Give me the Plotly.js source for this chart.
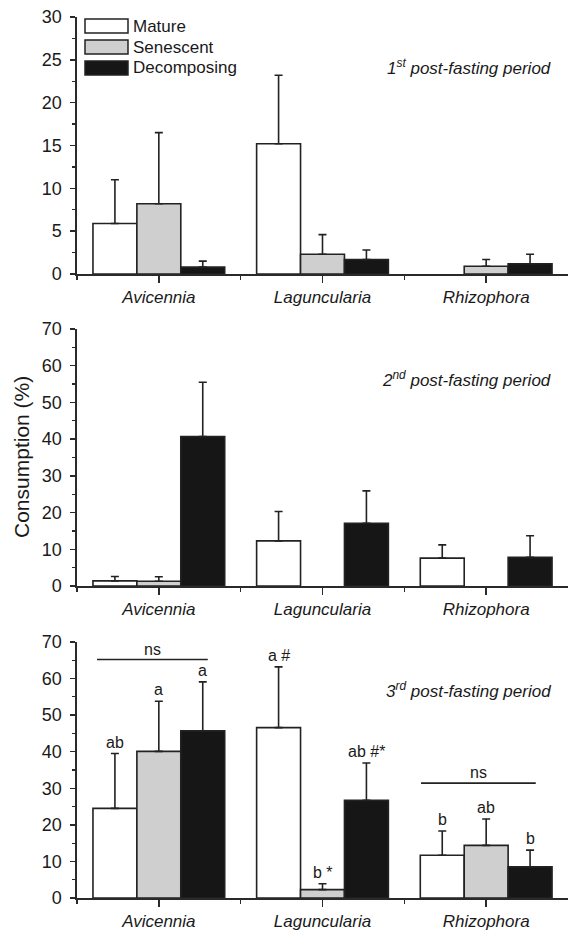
<!DOCTYPE html>
<html>
<head>
<meta charset="utf-8">
<script src="https://cdn.plot.ly/plotly-3.0.1.min.js"></script>
<style>html,body{margin:0;padding:0;background:#fff;}#chart{width:568px;height:930px;}</style>
</head>
<body>
<div id="chart"></div>
<script>
// ---- data ----
var species = ["Avicennia", "Laguncularia", "Rhizophora"];
var seriesNames = ["Mature", "Senescent", "Decomposing"];
var periodTitles = ["1<sup>st</sup> post-fasting period", "2<sup>nd</sup> post-fasting period", "3<sup>rd</sup> post-fasting period"];

// period 1
var p1Mature = [5.9, 15.2, null];
var p1MatureErr = [5.1, 8.0, null];
var p1Senescent = [8.2, 2.3, 0.9];
var p1SenescentErr = [8.3, 2.3, 0.8];
var p1Decomposing = [0.8, 1.7, 1.2];
var p1DecomposingErr = [0.7, 1.1, 1.1];

// period 2
var p2Mature = [1.4, 12.3, 7.6];
var p2MatureErr = [1.2, 8.0, 3.6];
var p2Senescent = [1.3, null, null];
var p2SenescentErr = [1.2, null, null];
var p2Decomposing = [40.7, 17.1, 7.8];
var p2DecomposingErr = [14.8, 8.8, 5.9];

// period 3
var p3Mature = [24.5, 46.6, 11.7];
var p3MatureErr = [15.0, 16.6, 6.6];
var p3Senescent = [40.1, 2.3, 14.4];
var p3SenescentErr = [13.7, 1.6, 7.2];
var p3Decomposing = [45.7, 26.7, 8.5];
var p3DecomposingErr = [13.4, 10.2, 4.6];

// significance letters, period 3 (per species: Mature, Senescent, Decomposing)
var p3Letters = [["ab", "a", "a"], ["a #", "b *", "ab #*"], ["b", "ab", "b"]];

var yTickVals1 = [0, 5, 10, 15, 20, 25, 30];
var yTickVals23 = [0, 10, 20, 30, 40, 50, 60, 70];

// ---- styling ----
var FONT = "Liberation Sans, Arial, Helvetica, sans-serif";
var fills = ["#ffffff", "#cfcfcf", "#161616"];
var edge = "#222222";
var axisCol = "#2a2a2a";
var txtCol = "#1a1a1a";
var BARGAP = 0.195;

var W = 568, H = 930, ML = 77, MR = 0, MT = 17, MB = 32;
var PW = W - ML - MR, PH = H - MT - MB;
function px(x) { return (x - ML) / PW; }
function py(y) { return (H - MB - y) / PH; }

var panels = [
  {vals: [p1Mature, p1Senescent, p1Decomposing], errs: [p1MatureErr, p1SenescentErr, p1DecomposingErr]},
  {vals: [p2Mature, p2Senescent, p2Decomposing], errs: [p2MatureErr, p2SenescentErr, p2DecomposingErr]},
  {vals: [p3Mature, p3Senescent, p3Decomposing], errs: [p3MatureErr, p3SenescentErr, p3DecomposingErr]}
];

var xIdx = species.map(function (_, i) { return i; });
var traces = [];
panels.forEach(function (p, k) {
  var sfx = k === 0 ? "" : String(k + 1);
  for (var j = 0; j < 3; j++) {
    traces.push({
      type: "bar",
      name: seriesNames[j],
      x: xIdx,
      y: p.vals[j],
      xaxis: "x" + sfx,
      yaxis: "y" + sfx,
      showlegend: false,
      marker: {color: fills[j], line: {color: edge, width: 1.6}},
      error_y: {
        type: "data", symmetric: false,
        array: p.errs[j],
        arrayminus: p.errs[j].map(function (v) { return v === null ? null : 0; }),
        color: edge, thickness: 1.6, width: 4
      },
      hoverinfo: "skip"
    });
  }
});

var domains = [[py(274), py(17)], [py(586), py(329)], [py(898), py(642)]];
var ranges = [[0, 30], [0, 70], [0, 70]];

var layout = {
  width: W, height: H,
  margin: {l: ML, r: MR, t: MT, b: MB},
  paper_bgcolor: "#fff", plot_bgcolor: "#fff",
  barmode: "group", bargap: BARGAP, bargroupgap: 0,
  showlegend: false,
  font: {family: FONT, size: 16, color: txtCol},
  annotations: [], shapes: []
};

for (var k = 0; k < 3; k++) {
  var sfx = k === 0 ? "" : String(k + 1);
  layout["xaxis" + sfx] = {
    anchor: "y" + sfx, domain: [0, 1], range: [-0.5, 2.5],
    tickmode: "array", tickvals: xIdx, ticktext: species,
    ticks: "outside", ticklen: 7, tickwidth: 1.5, tickcolor: axisCol,
    minor: {tickmode: "array", tickvals: [-0.5, 0.5, 1.5], ticks: "outside", ticklen: 4, tickwidth: 1.5, tickcolor: axisCol},
    showline: true, linecolor: axisCol, linewidth: 1.6,
    showgrid: false, zeroline: false, fixedrange: true,
    tickfont: {family: FONT, size: 17, style: "italic", color: txtCol}
  };
  layout["yaxis" + sfx] = {
    anchor: "x" + sfx, domain: domains[k], range: ranges[k],
    tickmode: "array", tickvals: k === 0 ? yTickVals1 : yTickVals23,
    ticks: "outside", ticklen: 5, tickwidth: 1.5, tickcolor: axisCol,
    minor: {dtick: k === 0 ? 2.5 : 5, tick0: 0, ticks: "outside", ticklen: 3, tickwidth: 1.2, tickcolor: axisCol},
    showline: true, linecolor: axisCol, linewidth: 1.6,
    showgrid: false, zeroline: false, fixedrange: true,
    ticklabelstandoff: 5,
    tickfont: {family: FONT, size: 18, color: txtCol}
  };
  layout.annotations.push({
    xref: "paper", yref: "paper", x: px(553), y: py([67, 379, 690][k]),
    xanchor: "right", yanchor: "middle", showarrow: false,
    text: "<i>" + periodTitles[k] + "</i>",
    font: {family: FONT, size: 17, color: txtCol}
  });
}

// y title
layout.annotations.push({
  xref: "paper", yref: "paper", x: px(21), y: py(457), xanchor: "center", yanchor: "middle",
  textangle: -90, showarrow: false, text: "Consumption (%)",
  font: {family: FONT, size: 21, color: txtCol}
});

// manual legend
var legTops = [19, 40, 61];
for (var j = 0; j < 3; j++) {
  layout.shapes.push({
    type: "rect", xref: "paper", yref: "paper",
    x0: px(85), x1: px(128), y0: py(legTops[j] + 14), y1: py(legTops[j]),
    fillcolor: fills[j], line: {color: edge, width: 1.5}
  });
  layout.annotations.push({
    xref: "paper", yref: "paper", x: px(131), y: py(legTops[j] + 7),
    xanchor: "left", yanchor: "middle", showarrow: false,
    text: seriesNames[j], font: {family: FONT, size: 17, color: txtCol}
  });
}

// significance letters in period 3
var bw = (1 - BARGAP) / 3;
for (var i = 0; i < 3; i++) {
  for (var j = 0; j < 3; j++) {
    var v = panels[2].vals[j][i], e = panels[2].errs[j][i];
    layout.annotations.push({
      xref: "x3", yref: "y3", x: i + (j - 1) * bw, y: v + e,
      xanchor: "center", yanchor: "bottom", yshift: 1, showarrow: false,
      text: p3Letters[i][j], font: {family: FONT, size: 16, color: txtCol}
    });
  }
}

// "ns" brackets in period 3
var nsLines = [[-0.378, 0.299, 65.2], [1.602, 2.303, 31.4]];
nsLines.forEach(function (l) {
  layout.shapes.push({type: "line", xref: "x3", yref: "y3", x0: l[0], x1: l[1], y0: l[2], y1: l[2], line: {color: edge, width: 1.6}});
  layout.annotations.push({
    xref: "x3", yref: "y3", x: (l[0] + l[1]) / 2, y: l[2], xanchor: "center", yanchor: "bottom",
    yshift: 0, showarrow: false, text: "ns", font: {family: FONT, size: 16, color: txtCol}
  });
});

Plotly.newPlot("chart", traces, layout, {staticPlot: true, displayModeBar: false});
</script>
</body>
</html>
